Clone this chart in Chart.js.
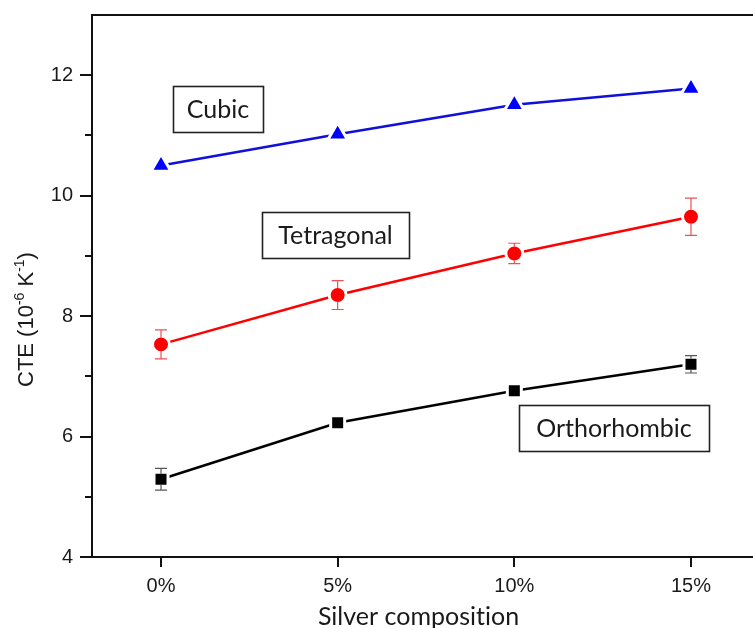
<!DOCTYPE html>
<html>
<head>
<meta charset="utf-8">
<script src="https://cdn.jsdelivr.net/npm/chart.js@4.4.1/dist/chart.umd.min.js"></script>
<style>
  html, body { margin: 0; padding: 0; background: #fff; }
  #wrap { width: 753px; height: 628px; }
</style>
</head>
<body>
<div id="wrap"><canvas id="cteChart" width="753" height="628"></canvas></div>
<script>
// silver content (%) and measured CTE (10^-6 K^-1) for each phase
const COMPOSITION = [0, 5, 10, 15];
const X_TICKS = [0, 5, 10, 15];
const Y_TICKS = [4, 6, 8, 10, 12];
const Y_MINOR = [5, 7, 9, 11];

const CUBIC = [10.50, 11.02, 11.51, 11.78];
const CUBIC_ERR = [0, 0, 0, 0];
const TETRAGONAL = [7.53, 8.35, 9.04, 9.65];
const TETRAGONAL_ERR = [0.24, 0.24, 0.17, 0.31];
const ORTHORHOMBIC = [5.29, 6.23, 6.76, 7.20];
const ORTHORHOMBIC_ERR = [0.18, 0, 0, 0.145];

const PHASES = ['Cubic', 'Tetragonal', 'Orthorhombic'];

// where the phase name boxes sit (data coords of box centre) and how wide they are
const PHASE_BOXES = [
  { x: 1.61, y: 11.44, w: 90 },
  { x: 4.94, y: 9.34, w: 147 },
  { x: 12.82, y: 6.14, w: 190 }
];

const AXIS_FONT = '"Liberation Sans", Arial, sans-serif';
const LABEL_FONT = 'Lato, "Open Sans", sans-serif';

function series(values) {
  return COMPOSITION.map((x, i) => ({ x: x, y: values[i] }));
}

// error bars, frame, minor ticks, axis titles and phase labels
const extras = {
  id: 'extras',
  afterDatasetsDraw(chart) {
    const { ctx, scales: { y } } = chart;
    chart.data.datasets.forEach((ds, i) => {
      const meta = chart.getDatasetMeta(i);
      ctx.save();
      ctx.strokeStyle = ds.errorColor;
      ctx.lineWidth = 1.2;
      meta.data.forEach((pt, j) => {
        const e = ds.errors[j];
        if (!e) return;
        const v = ds.data[j].y;
        const top = y.getPixelForValue(v + e);
        const bot = y.getPixelForValue(v - e);
        const r = ds.markerHalf;
        ctx.beginPath();
        if (pt.y - r > top) { ctx.moveTo(pt.x, top); ctx.lineTo(pt.x, pt.y - r); }
        if (pt.y + r < bot) { ctx.moveTo(pt.x, pt.y + r); ctx.lineTo(pt.x, bot); }
        ctx.moveTo(pt.x - 6, top); ctx.lineTo(pt.x + 6, top);
        ctx.moveTo(pt.x - 6, bot); ctx.lineTo(pt.x + 6, bot);
        ctx.stroke();
      });
      ctx.restore();
    });
  },
  afterDraw(chart) {
    const { ctx, chartArea: a, scales: { x, y } } = chart;
    ctx.save();
    ctx.strokeStyle = '#111';
    ctx.lineWidth = 2;

    // top frame line
    ctx.beginPath();
    ctx.moveTo(a.left - 1, a.top);
    ctx.lineTo(a.right, a.top);
    ctx.stroke();

    // minor ticks on the y axis
    ctx.beginPath();
    Y_MINOR.forEach(v => {
      const py = Math.round(y.getPixelForValue(v));
      ctx.moveTo(a.left - 7, py);
      ctx.lineTo(a.left, py);
    });
    ctx.stroke();

    // y title with superscripts
    ctx.fillStyle = '#1a1a1a';
    ctx.translate(33, 387);
    ctx.rotate(-Math.PI / 2);
    ctx.textBaseline = 'alphabetic';
    let cx = 0;
    const parts = [
      ['CTE (10', 22, 0], ['-6', 14, -9], [' K', 22, 0], ['-1', 14, -9], [')', 22, 0]
    ];
    parts.forEach(([t, size, dy]) => {
      ctx.font = size + 'px ' + AXIS_FONT;
      ctx.fillText(t, cx, dy);
      cx += ctx.measureText(t).width;
    });
    ctx.setTransform(1, 0, 0, 1, 0, 0);

    // x title (ZWNJ keeps Lato from joining "ti")
    ctx.font = '25px ' + LABEL_FONT;
    ctx.textAlign = 'center';
    ctx.fillText('Silver composit\u200Cion', (a.left + a.right) / 2 - 4, 625);

    // phase name boxes
    ctx.font = '25px ' + LABEL_FONT;
    ctx.textBaseline = 'middle';
    ctx.lineWidth = 1.6;
    ctx.strokeStyle = '#222';
    PHASES.forEach((name, i) => {
      const b = PHASE_BOXES[i];
      const cxp = x.getPixelForValue(b.x);
      const cyp = y.getPixelForValue(b.y);
      ctx.fillStyle = '#fff';
      ctx.fillRect(cxp - b.w / 2, cyp - 23, b.w, 46);
      ctx.strokeRect(Math.round(cxp - b.w / 2) + 0.5, Math.round(cyp - 23) + 0.5, b.w, 46);
      ctx.fillStyle = '#1a1a1a';
      ctx.fillText(name, cxp, cyp + 1);
    });
    ctx.restore();
  }
};

new Chart(document.getElementById('cteChart'), {
  type: 'line',
  data: {
    datasets: [
      {
        label: PHASES[0],
        data: series(CUBIC),
        errors: CUBIC_ERR,
        errorColor: '#3030ff',
        markerHalf: 8,
        borderColor: '#1010d8',
        borderWidth: 2.5,
        pointStyle: 'triangle',
        pointRadius: 11.5,
        pointBackgroundColor: '#0000ff',
        pointBorderColor: '#ffffff',
        pointBorderWidth: 3,
        tension: 0
      },
      {
        label: PHASES[1],
        data: series(TETRAGONAL),
        errors: TETRAGONAL_ERR,
        errorColor: '#ee5050',
        markerHalf: 7,
        borderColor: '#ff0000',
        borderWidth: 2.5,
        pointStyle: 'circle',
        pointRadius: 8.5,
        pointBackgroundColor: '#ff0000',
        pointBorderColor: '#ffffff',
        pointBorderWidth: 3,
        tension: 0
      },
      {
        label: PHASES[2],
        data: series(ORTHORHOMBIC),
        errors: ORTHORHOMBIC_ERR,
        errorColor: '#555555',
        markerHalf: 5.5,
        borderColor: '#000000',
        borderWidth: 2.5,
        pointStyle: 'rect',
        pointRadius: 9.9,
        pointBackgroundColor: '#000000',
        pointBorderColor: '#ffffff',
        pointBorderWidth: 3,
        tension: 0
      }
    ]
  },
  options: {
    responsive: false,
    animation: false,
    layout: { autoPadding: false, padding: { top: 15, right: 0, left: 0, bottom: 0 } },
    plugins: {
      legend: { display: false },
      tooltip: { enabled: false }
    },
    scales: {
      x: {
        type: 'linear',
        min: -1.953,
        max: 16.755,
        afterBuildTicks: s => { s.ticks = X_TICKS.map(v => ({ value: v })); },
        afterFit: s => { s.height = 71; s.paddingLeft = 0; s.paddingRight = 0; },
        grid: { drawOnChartArea: false, drawTicks: true, tickLength: 10, tickColor: '#111', lineWidth: 2 },
        border: { display: true, color: '#111', width: 2 },
        ticks: {
          color: '#1a1a1a',
          padding: 7,
          font: { family: AXIS_FONT, size: 20 },
          callback: v => v + '%'
        }
      },
      y: {
        min: 4,
        max: 13,
        afterBuildTicks: s => { s.ticks = Y_TICKS.map(v => ({ value: v })); },
        afterFit: s => { s.width = 92; s.paddingTop = 0; s.paddingBottom = 0; },
        grid: { drawOnChartArea: false, drawTicks: true, tickLength: 12, tickColor: '#111', lineWidth: 2 },
        border: { display: true, color: '#111', width: 2 },
        ticks: {
          color: '#1a1a1a',
          padding: 7,
          font: { family: AXIS_FONT, size: 20 }
        }
      }
    }
  },
  plugins: [extras]
});
</script>
</body>
</html>
